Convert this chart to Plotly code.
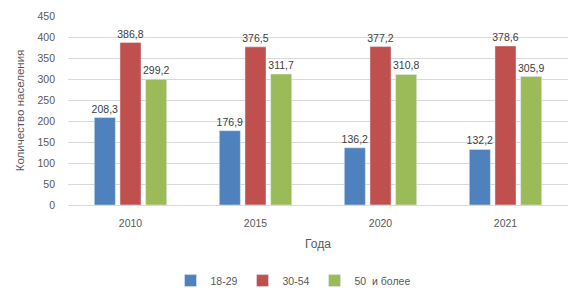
import plotly.graph_objects as go

years = ["2010", "2015", "2020", "2021"]
series_names = ["18-29", "30-54", "50  и более"]
v_18_29 = [208.3, 176.9, 136.2, 132.2]
v_30_54 = [386.8, 376.5, 377.2, 378.6]
v_50 = [299.2, 311.7, 310.8, 305.9]
colors = ["#4F81BD", "#C0504D", "#9BBB59"]
y_ticks = list(range(0, 451, 50))

def fmt(v):
    return f"{v:.1f}".replace(".", ",")

fig = go.Figure()
for name, vals, c in zip(series_names, [v_18_29, v_30_54, v_50], colors):
    fig.add_trace(go.Bar(
        x=years, y=vals, name=name, marker_color=c,
        text=[fmt(v) for v in vals], textposition="outside",
        textfont=dict(color="#404040", size=10.5),
        constraintext="none", cliponaxis=False,
    ))

# page body has an 8px default margin, so the figure is sized/offset for it
fig.update_layout(
    width=570, height=284,
    margin=dict(l=60, r=10, t=8, b=87, autoexpand=False),
    paper_bgcolor="white", plot_bgcolor="white",
    font=dict(family="Liberation Sans, Arial, sans-serif", size=11, color="#595959"),
    barmode="group", bargap=0.384, bargroupgap=0.18,
    showlegend=True,
    legend=dict(orientation="h", x=0.45, xanchor="center", y=-0.40, yanchor="middle",
                font=dict(size=10.5, color="#595959"), itemwidth=30),
    xaxis=dict(
        title=dict(text="Года", font=dict(size=12, color="#595959"), standoff=12),
        showline=True, linecolor="#D9D9D9", ticks="", tickfont=dict(size=10.5),
        ticklabelstandoff=8, automargin=False,
    ),
    yaxis=dict(
        title=dict(text="Количество населения", font=dict(size=11.5, color="#595959"), standoff=10),
        range=[0, 450], tickvals=y_ticks, showgrid=True, gridcolor="#D9D9D9",
        zeroline=False, ticks="", tickfont=dict(size=10.5),
        ticklabelstandoff=12, automargin=False,
    ),
)
fig.write_html("out.html")
